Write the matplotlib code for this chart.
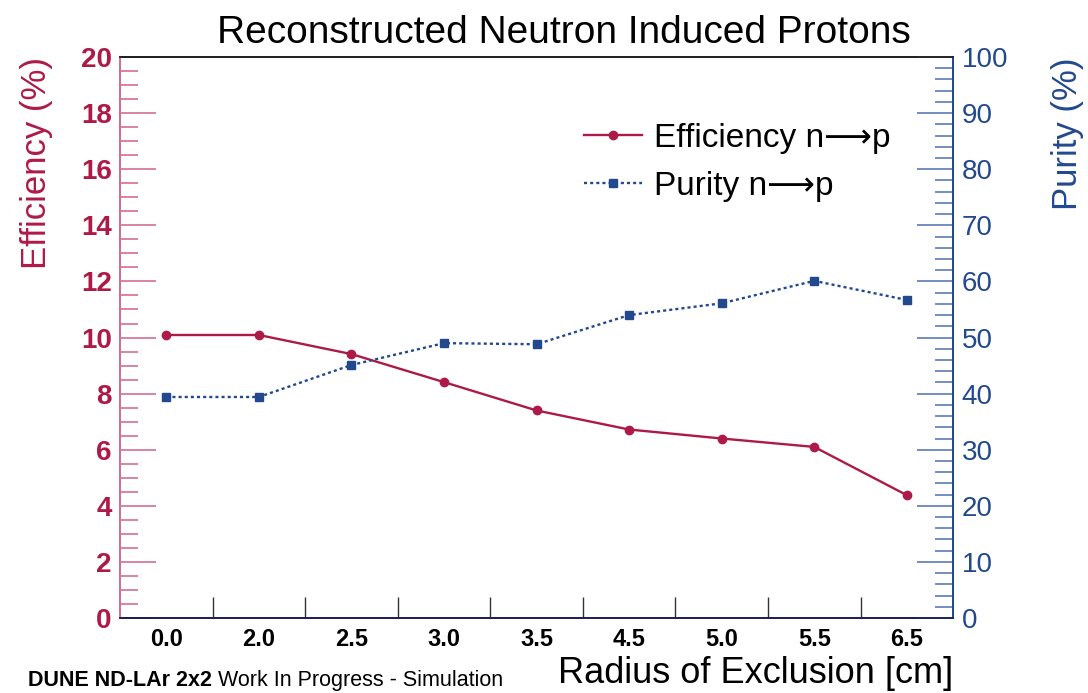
import matplotlib
matplotlib.use('Agg')
from matplotlib import pyplot as plt
from matplotlib.ticker import MultipleLocator, FixedLocator, NullFormatter
from matplotlib.transforms import offset_copy

plt.rcParams['font.family'] = ['Liberation Sans', 'DejaVu Sans']

# Values
radius = ['0.0', '2.0', '2.5', '3.0', '3.5', '4.5', '5.0', '5.5', '6.5']
efficiency = [10.09, 10.09, 9.41, 8.41, 7.40, 6.72, 6.40, 6.10, 4.38]
purity = [39.4, 39.4, 45.1, 49.0, 48.8, 54.0, 56.1, 60.1, 56.7]

red = '#ae1a47'
red_light = '#d47090'
blue = '#22488e'
blue_light = '#5a7ab5'

fig = plt.figure(figsize=(10.88, 6.93), dpi=100)
ax1 = fig.add_axes([0.1103, 0.1082, 0.876 - 0.1103, 0.9177 - 0.1082])
ax2 = ax1.twinx()

x = list(range(len(radius)))
l1, = ax1.plot(x, efficiency, color=red, lw=1.7, marker='o', ms=6,
               label='Efficiency n\u27f6p')
l2, = ax2.plot(x, purity, color=blue, lw=1.7, ls=(0, (1.3, 1.3)), marker='s', ms=6,
               label='Purity n\u27f6p')

# x axis: labels at bin centres, ticks at bin edges
ax1.set_xlim(-0.5, len(radius) - 0.5)
ax1.xaxis.set_major_locator(FixedLocator(x))
ax1.set_xticklabels(radius, fontsize=17, fontweight='bold')
ax1.xaxis.set_minor_locator(FixedLocator([i + 0.5 for i in x[:-1]]))
ax1.xaxis.set_minor_formatter(NullFormatter())
ax1.tick_params(axis='x', which='major', length=0, pad=7)
ax1.tick_params(axis='x', which='minor', direction='in', length=15, width=1, color='#333333')
ax1.set_xlabel('Radius of Exclusion [cm]', fontsize=26, loc='right', labelpad=4)

# left axis
ax1.set_ylim(0, 20)
ax1.yaxis.set_major_locator(MultipleLocator(2))
ax1.yaxis.set_minor_locator(MultipleLocator(0.5))
ax1.tick_params(axis='y', which='major', direction='in', length=26, width=1.2,
                color=red_light, labelcolor=red, labelsize=20, pad=6)
ax1.tick_params(axis='y', which='minor', direction='in', length=13, width=1.2, color=red_light)
for lab in ax1.get_yticklabels():
    lab.set_fontweight('bold')
ax1.set_ylabel('Efficiency (%)', fontsize=25, color=red, loc='top', labelpad=20)

# right axis
ax2.set_ylim(0, 100)
ax2.yaxis.set_major_locator(MultipleLocator(10))
ax2.yaxis.set_minor_locator(MultipleLocator(2))
ax2.tick_params(axis='y', which='major', direction='in', length=26, width=1.2,
                color=blue_light, labelcolor=blue, labelsize=20, pad=6)
ax2.tick_params(axis='y', which='minor', direction='in', length=13, width=1.2, color=blue_light)
ax2.set_ylabel('Purity (%)', fontsize=25, color=blue, loc='top', labelpad=31)

for ax in (ax1, ax2):
    ax.spines['top'].set_color('#222222')
    ax.spines['bottom'].set_color('#1e1e5a')
    ax.spines['left'].set_color(red_light)
    ax.spines['right'].set_color(blue)
    for s in ax.spines.values():
        s.set_linewidth(1.3)

ax1.set_title('Reconstructed Neutron Induced Protons', fontsize=28, pad=10, x=0.533)

ax2.legend([l1, l2], [l1.get_label(), l2.get_label()], loc='upper left',
           bbox_to_anchor=(0.509, 0.866), bbox_transform=fig.transFigure,
           frameon=False, fontsize=24, handlelength=1.75, handletextpad=0.35,
           labelspacing=0.5)

# footer: bold experiment name followed by normal text
t1 = fig.text(0.026, 0.0095, 'DUNE ND-LAr 2x2', fontsize=15.5, fontweight='bold',
              ha='left', va='baseline')
fig.canvas.draw()
w = t1.get_window_extent().width
fig.text(0.026, 0.0095, ' Work In Progress - Simulation', fontsize=15.5, ha='left', va='baseline',
         transform=offset_copy(fig.transFigure, fig=fig, x=w, y=0, units='dots'))

plt.savefig('out.png', dpi=100)
